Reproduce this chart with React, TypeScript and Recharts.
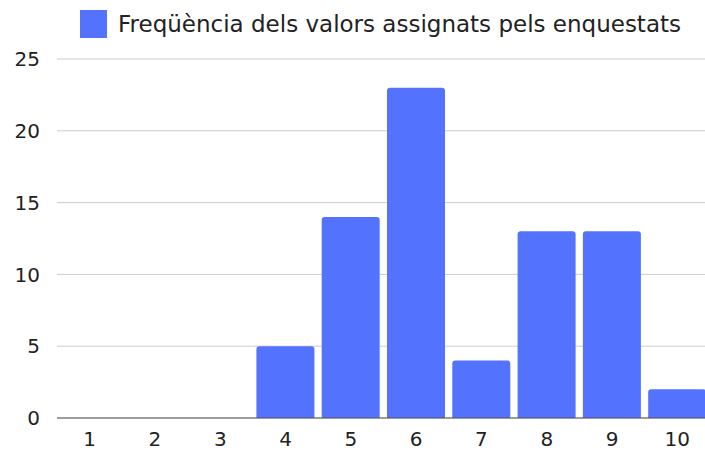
import React from 'react';
import { BarChart, Bar, XAxis, YAxis, CartesianGrid, Legend } from 'recharts';

const categories = ['1', '2', '3', '4', '5', '6', '7', '8', '9', '10'];
const frequencies = [0, 0, 0, 5, 14, 23, 4, 13, 13, 2];
const yTicks = [0, 5, 10, 15, 20, 25];
const seriesName = 'Freqüència dels valors assignats pels enquestats';

const data = categories.map((c, i) => ({ name: c, value: frequencies[i] }));

const LegendContent = () => (
  <div style={{ display: 'flex', alignItems: 'center', height: 40, paddingLeft: 80, boxSizing: 'border-box' }}>
    <div style={{ width: 27, height: 28, background: '#5373ff', marginRight: 11 }} />
    <span style={{ fontFamily: '"DejaVu Sans", sans-serif', fontSize: 23, color: '#222', whiteSpace: 'nowrap' }}>{seriesName}</span>
  </div>
);

export default function App() {
  return (
    <div style={{ position: 'absolute', left: 0, top: 0, width: 705, height: 458, overflow: 'hidden' }}>
      <BarChart width={710} height={458} data={data} margin={{ top: 19, right: 0, bottom: 10, left: 0 }} barCategoryGap={3.5}>
        <Legend verticalAlign="top" align="left" content={LegendContent} wrapperStyle={{ top: 4, left: 0, height: 40 }} />
        <CartesianGrid vertical={false} stroke="#cccccc" />
        <YAxis
          width={57}
          domain={[0, 25]}
          ticks={yTicks}
          axisLine={false}
          tickLine={false}
          tickMargin={11}
          tick={{ fill: '#222', fontSize: 20, fontFamily: '"DejaVu Sans", sans-serif' }}
        />
        <XAxis
          dataKey="name"
          axisLine={{ stroke: '#555' }}
          tickLine={false}
          tickMargin={8}
          tick={{ fill: '#222', fontSize: 20, fontFamily: '"DejaVu Sans", sans-serif' }}
        />
        <Bar dataKey="value" name={seriesName} fill="#5373ff" radius={[3, 3, 0, 0]} isAnimationActive={false} />
      </BarChart>
    </div>
  );
}
